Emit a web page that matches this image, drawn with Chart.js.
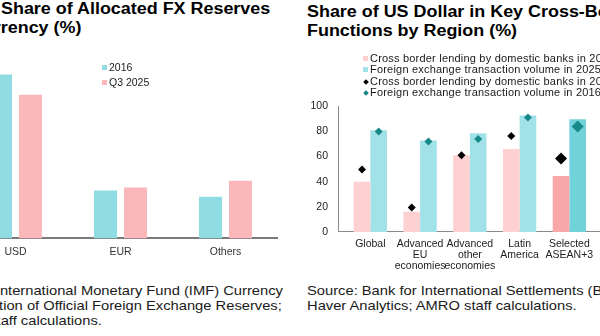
<!DOCTYPE html>
<html>
<head>
<meta charset="utf-8">
<script src="https://cdn.jsdelivr.net/npm/chart.js@4.4.1/dist/chart.umd.min.js"></script>
<style>
  html, body { margin: 0; padding: 0; }
  body {
    width: 600px; height: 336px; overflow: hidden; position: relative;
    background: #fff; font-family: Arial, "Liberation Sans", sans-serif; color: #000;
  }
  .abs { position: absolute; white-space: nowrap; }
  .title { font-weight: bold; font-size: 16px; line-height: 19px; transform: scaleX(1.12); transform-origin: 0 0; }
  .source { font-size: 12.8px; line-height: 15px; color: #1a1a1a; transform: scaleX(1.15); transform-origin: 0 0; }
  .legend { font-size: 10.5px; color: #1a1a1a; }
  .legend .sq { display: inline-block; width: 5px; height: 5px; margin-right: 2px; vertical-align: 1px; }
  .legend .dm { display: inline-block; width: 4px; height: 4px; margin: 0 2px 0 1px; transform: rotate(45deg); vertical-align: 1px; }
  .box { position: absolute; }
</style>
</head>
<body>

<!-- left panel -->
<div class="abs title" style="left:1px; top:-1px;">Share of Allocated FX Reserves</div>
<div class="abs title" style="left:-56px; top:18px;">by Currency (%)</div>

<div class="box" style="left:-37px; top:38px; width:315px; height:227px;">
  <canvas id="reserveChart"></canvas>
</div>

<div class="abs legend" style="left:102px; top:60px; line-height:15px;">
  <div><span class="sq" style="background:#8fdce3"></span>2016</div>
  <div><span class="sq" style="background:#fbb8bb"></span>Q3 2025</div>
</div>

<div class="abs source" style="left:-59px; top:283px;">
  Source: International Monetary Fund (IMF) Currency<br>
  Composition of Official Foreign Exchange Reserves;<br>
  AMRO staff calculations.
</div>

<!-- right panel -->
<div class="abs title" style="left:307px; top:2px;">Share of US Dollar in Key Cross-Border<br>Functions by Region (%)</div>

<div class="box" style="left:308px; top:90px; width:342px; height:188px;">
  <canvas id="regionChart"></canvas>
</div>

<div class="abs legend" style="left:363px; top:53px; line-height:11.3px; font-size:11px; letter-spacing:0.2px;">
  <div><span class="sq" style="background:#fdd0d1"></span>Cross border lending by domestic banks in 2025</div>
  <div><span class="sq" style="background:#a0e2e8"></span>Foreign exchange transaction volume in 2025</div>
  <div><span class="dm" style="background:#000"></span>Cross border lending by domestic banks in 2016</div>
  <div><span class="dm" style="background:#17898a"></span>Foreign exchange transaction volume in 2016</div>
</div>

<div class="abs source" style="left:307px; top:283px;">
  Source: Bank for International Settlements (BIS);<br>
  Haver Analytics; AMRO staff calculations.
</div>

<script>
// left chart data
const currencies = ["USD", "EUR", "Others"];
const share2016 = [65.4, 19.1, 16.6];
const shareQ32025 = [57.3, 20.3, 23.0];

// right chart data
const regions = [
	["Global"],
	["Advanced", "EU", "economies"],
	["Advanced", "other", "economies"],
	["Latin", "America"],
	["Selected", "ASEAN+3"]
];
const lending2025 = [40, 16, 61, 66, 44.5];
const fxVolume2025 = [81, 72.7, 78.6, 92.7, 89.6];
const lending2016 = [49.7, 19.5, 61, 76.3, 58.5];
const fxVolume2016 = [80, 72, 74, 91, 84];
const valueTicks = [0, 20, 40, 60, 80, 100];

const highlight = 4; // ASEAN+3 drawn darker
const catPct = 0.67;
const markerShift = catPct / 4; // centre of each bar inside the group

const font = { family: "Arial, 'Liberation Sans', sans-serif", size: 10.5 };

new Chart(document.getElementById("reserveChart"), {
	type: "bar",
	data: {
		labels: currencies,
		datasets: [
			{ label: "2016", data: share2016, backgroundColor: "#8fdce3" },
			{ label: "Q3 2025", data: shareQ32025, backgroundColor: "#fbb8bb" }
		]
	},
	options: {
		responsive: true,
		maintainAspectRatio: false,
		animation: false,
		layout: { padding: 0 },
		categoryPercentage: 0.571,
		barPercentage: 0.767,
		plugins: { legend: { display: false }, tooltip: { enabled: false } },
		scales: {
			x: {
				grid: { display: false, drawTicks: false },
				border: { display: true, color: "#7a7a7a", width: 2 },
				ticks: { color: "#333", font: font, padding: 7 }
			},
			y: { display: false, min: 0, max: 80 }
		}
	}
});

const pick = (normal, dark) => regions.map((r, i) => (i === highlight ? dark : normal));

new Chart(document.getElementById("regionChart"), {
	type: "bar",
	data: {
		datasets: [
			{
				type: "scatter",
				label: "Cross border lending by domestic banks in 2016",
				data: lending2016.map((v, i) => ({ x: i - markerShift, y: v })),
				backgroundColor: "#000",
				pointStyle: "rectRot",
				pointRadius: pick(4, 6),
				borderWidth: 0,
				order: 1
			},
			{
				type: "scatter",
				label: "Foreign exchange transaction volume in 2016",
				data: fxVolume2016.map((v, i) => ({ x: i + markerShift, y: v })),
				backgroundColor: "#17898a",
				pointStyle: "rectRot",
				pointRadius: pick(4, 6),
				borderWidth: 0,
				order: 1
			},
			{
				label: "Cross border lending by domestic banks in 2025",
				data: lending2025.map((v, i) => ({ x: i, y: v })),
				backgroundColor: pick("#fdd0d1", "#f9a8aa"),
				order: 2
			},
			{
				label: "Foreign exchange transaction volume in 2025",
				data: fxVolume2025.map((v, i) => ({ x: i, y: v })),
				backgroundColor: pick("#a0e2e8", "#72d2d9"),
				order: 2
			}
		]
	},
	options: {
		responsive: true,
		maintainAspectRatio: false,
		animation: false,
		layout: { padding: { top: 8 } },
		categoryPercentage: catPct,
		barPercentage: 1,
		plugins: { legend: { display: false }, tooltip: { enabled: false } },
		scales: {
			x: {
				type: "linear",
				offset: false,
				min: -0.65,
				max: 5.5,
				grid: { display: false, drawTicks: false },
				border: { display: true, color: "#8a8a8a", width: 1 },
				afterBuildTicks: scale => {
					scale.ticks = regions.map((r, i) => ({ value: i }));
				},
				ticks: {
					autoSkip: false,
					maxRotation: 0,
					minRotation: 0,
					color: "#222",
					font: { family: font.family, size: 10.5, lineHeight: 1.05 },
					padding: 6.5,
					callback: value => regions[value] || ""
				}
			},
			y: {
				min: 0,
				max: 100,
				afterFit: scale => {
					scale.width = 30;
				},
				afterBuildTicks: scale => {
					scale.ticks = valueTicks.map(v => ({ value: v }));
				},
				grid: { display: false, drawTicks: false },
				border: { display: true, color: "#8a8a8a", width: 1 },
				ticks: { color: "#222", font: font, padding: 10 }
			}
		}
	}
});
</script>
</body>
</html>
